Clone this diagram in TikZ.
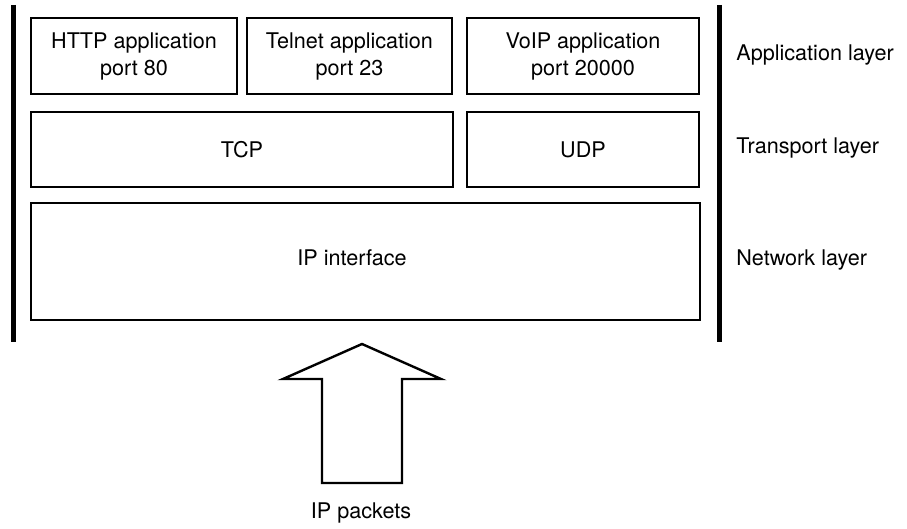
\documentclass[tikz,border=0pt]{standalone}
\usepackage{fontspec}
\setmainfont{TeX Gyre Heros}
\usepackage{tikz}

\tikzset{
    layerbox/.style={draw, line width=1pt, inner sep=0pt, align=center,
        font=\fontsize{10.8}{13.5}\selectfont},
    layertext/.style={anchor=west, inner sep=0pt,
        font=\fontsize{10.8}{13.5}\selectfont},
}

\begin{document}
\begin{tikzpicture}[x=0.5pt, y=-0.5pt]
    \useasboundingbox (0,0) rectangle (907,529);

    % パラメータの定義
    \pgfmathsetmacro{\top}{5}
    \pgfmathsetmacro{\bot}{342}

    % 縦線の座標の定義
    \coordinate (LT) at (13,\top);
    \coordinate (LB) at (13,\bot);
    \coordinate (RT) at (719,\top);
    \coordinate (RB) at (719,\bot);

    % 縦線の描画
    \draw [line width=2.5pt] (LT) -- (LB);
    \draw [line width=2.5pt] (RT) -- (RB);

    % アプリケーション層
    \node[layerbox, minimum width=103pt, minimum height=38pt] (http) at (134,56)
        {HTTP application\\port 80};
    \node[layerbox, minimum width=102.5pt, minimum height=38pt] (telnet) at (349.5,56)
        {Telnet application\\port 23};
    \node[layerbox, minimum width=116pt, minimum height=38pt] (voip) at (583,56)
        {VoIP application\\port 20000};

    % トランスポート層
    \node[layerbox, minimum width=211pt, minimum height=37.5pt] (tcp) at (242,149.5) {TCP};
    \node[layerbox, minimum width=116pt, minimum height=37.5pt] (udp) at (583,149.5) {UDP};

    % ネットワーク層
    \node[layerbox, minimum width=334.5pt, minimum height=58.5pt] (ip) at (365.5,261.5) {};
    \node[layertext, anchor=center] (iptext) at (352,258) {IP interface};

    % 層のラベル
    \node[layertext] (app) at (736,55) {Application layer};
    \node[layertext] (trans) at (736,148) {Transport layer};
    \node[layertext] (net) at (736,260) {Network layer};

    % 矢印の描画
    \draw [line width=1.2pt, line join=miter]
        (362,344) -- (441,379) -- (402,379) -- (402,483)
        -- (322,483) -- (322,379) -- (283,379) -- cycle;
    \node[layertext, anchor=center] (packets) at (361,513) {IP packets};

\end{tikzpicture}
\end{document}
